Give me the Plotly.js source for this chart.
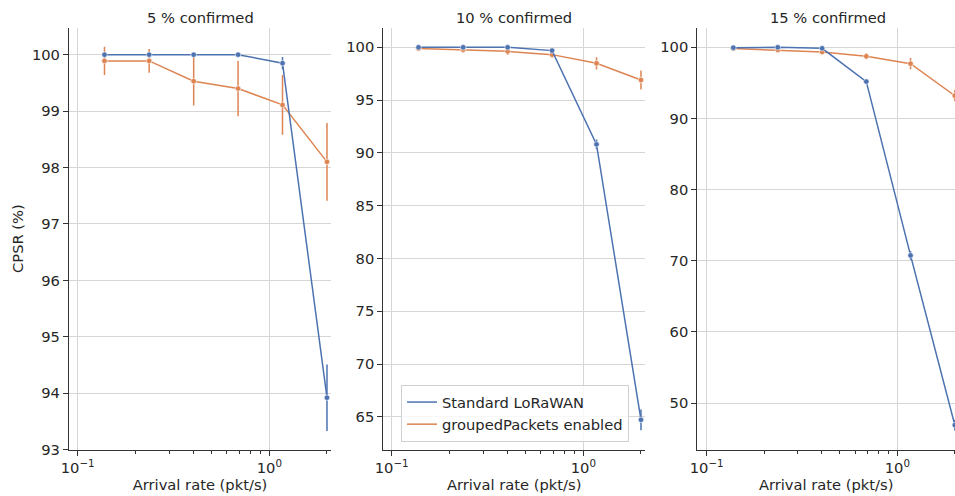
<!DOCTYPE html>
<html>
<head>
<meta charset="utf-8">
<script src="https://cdn.plot.ly/plotly-3.0.1.min.js"></script>
<style>html,body{margin:0;padding:0;background:#fff;}#chart{width:955px;height:496px;}</style>
</head>
<body>
<div id="chart"></div>
<script>
// Arrival rates (pkt/s)
const arrivalRate = [0.138, 0.236, 0.403, 0.687, 1.172, 2.0];
const panelTitles = ['5 % confirmed', '10 % confirmed', '15 % confirmed'];
const seriesNames = ['Standard LoRaWAN', 'groupedPackets enabled'];

// 5 % confirmed
const std5 = [100, 100, 100, 100, 99.85, 93.92];
const std5Err = [0.02, 0.02, 0.02, 0.02, 0.11, 0.59];
const grp5 = [99.89, 99.89, 99.53, 99.40, 99.11, 98.10];
const grp5Err = [0.25, 0.21, 0.43, 0.49, 0.53, 0.69];

// 10 % confirmed
const std10 = [100, 100, 100, 99.69, 90.81, 64.72];
const std10Err = [0.02, 0.02, 0.02, 0.1, 0.47, 0.98];
const grp10 = [99.88, 99.78, 99.62, 99.31, 98.49, 96.91];
const grp10Err = [0.12, 0.3, 0.35, 0.3, 0.58, 0.9];

// 15 % confirmed
const std15 = [99.95, 100, 99.86, 95.18, 70.75, 46.9];
const std15Err = [0.05, 0.03, 0.1, 0.2, 0.6, 0.75];
const grp15 = [99.82, 99.62, 99.34, 98.73, 97.70, 93.2];
const grp15Err = [0.2, 0.2, 0.3, 0.42, 0.8, 0.8];

const yTicks1 = [93, 94, 95, 96, 97, 98, 99, 100];
const yTicks2 = [65, 70, 75, 80, 85, 90, 95, 100];
const yTicks3 = [50, 60, 70, 80, 90, 100];
const xMajor = [0.1, 1];
const xMajorText = ['10<sup>\u22121</sup>', '10<sup>0</sup>'];
const xMinor = [0.2, 0.3, 0.4, 0.5, 0.6, 0.7, 0.8, 0.9, 2];

const BLUE = '#4c72b0', ORANGE = '#dd8452';
const FONT = 'DejaVu Sans, sans-serif';
const FS = 14.7;
const TXT = '#262626';

const panels = [
  {std: std5, stdE: std5Err, grp: grp5, grpE: grp5Err},
  {std: std10, stdE: std10Err, grp: grp10, grpE: grp10Err},
  {std: std15, stdE: std15Err, grp: grp15, grpE: grp15Err}
];

function trace(y, err, color, i) {
  const s = i === 0 ? '' : String(i + 1);
  return {
    x: arrivalRate, y: y, type: 'scatter', mode: 'lines+markers',
    xaxis: 'x' + s, yaxis: 'y' + s, showlegend: false,
    line: {color: color, width: 1.5},
    marker: {color: color, size: 5.5, line: {color: '#fff', width: 0.6}},
    error_y: {type: 'data', array: err, visible: true, color: color, thickness: 1.5, width: 0},
    hoverinfo: 'x+y'
  };
}

const data = [];
panels.forEach((p, i) => {
  data.push(trace(p.grp, p.grpE, ORANGE, i));
  data.push(trace(p.std, p.stdE, BLUE, i));
});
// legend entries (line only)
data.push({x: [null], y: [null], type: 'scatter', mode: 'lines', name: seriesNames[0],
  line: {color: BLUE, width: 1.5}, xaxis: 'x2', yaxis: 'y2', showlegend: true});
data.push({x: [null], y: [null], type: 'scatter', mode: 'lines', name: seriesNames[1],
  line: {color: ORANGE, width: 1.5}, xaxis: 'x2', yaxis: 'y2', showlegend: true});

const W = 955, H = 496;
const xDom = [[69 / W, 331 / W], [383.3 / W, 645 / W], [697.3 / W, 1]];
const xRng = [[-1.0454, 0.322], [-1.0438, 0.322], [-1.049, 0.302]];
const titleX = [200 / W, 514.2 / W, 828.3 / W];
const yDom = [1 - 449.6 / H, 1 - 27.6 / H];
const yRng = [[93, 100.48], [61.9, 101.87], [43.45, 102.77]];
const yTicks = [yTicks1, yTicks2, yTicks3];

const layout = {
  width: W, height: H,
  margin: {l: 0, r: 0, t: 0, b: 0},
  paper_bgcolor: '#fff', plot_bgcolor: '#fff',
  font: {family: FONT, size: FS, color: TXT},
  showlegend: true,
  legend: {
    x: 401 / W, y: 1 - 385 / H, xanchor: 'left', yanchor: 'top',
    bgcolor: 'rgba(255,255,255,0.8)', bordercolor: '#d0d0d0', borderwidth: 1,
    font: {family: FONT, size: FS, color: TXT}, tracegroupgap: 0
  },
  annotations: [],
  hovermode: 'closest'
};

for (let i = 0; i < 3; i++) {
  const s = i === 0 ? '' : String(i + 1);
  layout['xaxis' + s] = {
    type: 'log', domain: xDom[i], range: xRng[i], anchor: 'y' + s,
    tickmode: 'array', tickvals: xMajor, ticktext: xMajorText,
    ticks: 'outside', ticklen: 5, tickwidth: 1.25, tickcolor: '#333',
    minor: {tickmode: 'array', tickvals: xMinor, ticks: 'outside', ticklen: 3, tickwidth: 1, tickcolor: '#333', showgrid: false},
    showline: true, linecolor: '#333', linewidth: 1.25,
    showgrid: true, gridcolor: '#d6d6d6', gridwidth: 1, zeroline: false,
    tickfont: {family: FONT, size: FS, color: TXT},
    title: {text: 'Arrival rate (pkt/s)', font: {family: FONT, size: FS, color: TXT}, standoff: 4},
    automargin: false
  };
  layout['yaxis' + s] = {
    domain: yDom, range: yRng[i], anchor: 'x' + s,
    tickmode: 'array', tickvals: yTicks[i],
    ticks: 'outside', ticklen: 5, tickwidth: 1.25, tickcolor: '#333',
    showline: true, linecolor: '#333', linewidth: 1.25,
    showgrid: true, gridcolor: '#d6d6d6', gridwidth: 1, zeroline: false,
    tickfont: {family: FONT, size: FS, color: TXT},
    automargin: false
  };
  layout.annotations.push({
    text: panelTitles[i], xref: 'paper', yref: 'paper',
    x: titleX[i], y: 1 - 17.5 / H,
    xanchor: 'center', yanchor: 'middle', showarrow: false,
    font: {family: FONT, size: FS, color: TXT}
  });
}
layout.yaxis.title = {text: 'CPSR (%)', font: {family: FONT, size: FS, color: TXT}, standoff: 4};

Plotly.newPlot('chart', data, layout, {displayModeBar: false});
</script>
</body>
</html>
